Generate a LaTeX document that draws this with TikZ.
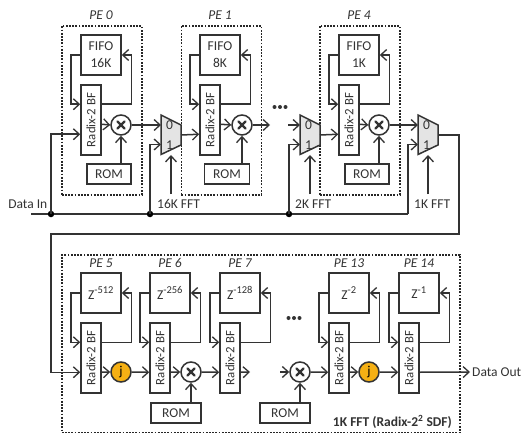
\documentclass[tikz,border=0pt]{standalone}
\usepackage{fontspec}
\setmainfont{Carlito}
\usetikzlibrary{arrows.meta,calc,shapes.misc}
\definecolor{ink}{HTML}{333333}
\definecolor{jfill}{HTML}{F5B014}
\definecolor{muxfill}{HTML}{E4E4E4}
\tikzset{
  wire/.style={draw=ink,line width=1.5pt,-{Straight Barb[length=6pt,width=11pt,line width=1.3pt]}},
  plain/.style={draw=ink,line width=1.5pt},
  boxn/.style={draw=ink,line width=1.5pt,fill=white,inner sep=0pt,align=center,text=ink,font=\fontsize{13.5}{17}\selectfont},
  mem/.style={boxn,minimum width=40pt,minimum height=40pt},
  bf/.style={boxn,minimum width=20pt,minimum height=70pt,font=\fontsize{12.8}{15}\selectfont},
  rom/.style={boxn,minimum height=20pt},
  pebox/.style={draw=black!85,line width=1.6pt,dash pattern=on 1.8pt off 1.4pt},
  pelabel/.style={font=\fontsize{13.5}{14}\itshape\selectfont,text=ink},
  lab/.style={font=\fontsize{13.5}{14}\selectfont,text=ink,inner sep=0pt},
  circ/.style={circle,draw=ink,line width=1.5pt,minimum size=20pt,inner sep=0pt,fill=white},
  dotn/.style={circle,fill=black,minimum size=6.5pt,inner sep=0pt},
  smalld/.style={circle,fill=ink,minimum size=4pt,inner sep=0pt},
  muxn/.style={draw=ink,line width=1.5pt,fill=muxfill},
}
% #1 id, #2 left x of memory box, #3 top y of memory box, #4 mem text, #5 label y,#6 label
\newcommand{\peblock}[6]{
  \node[mem] (m#1) at (#2+20,#3+20) {#4};
  \node[bf] (b#1) at (#2+10,#3+85) {\rotatebox{90}{Radix-2 BF}};
  \node[pelabel] (l#1) at (#2+20,#5) {#6};
  \coordinate (bu#1) at ($(b#1.north west)+(0,20)$);
  \coordinate (bv#1) at ($(b#1.north east)+(0,20)$);
  \coordinate (bi#1) at ($(b#1.north west)+(0,50)$);
  \coordinate (bm#1) at ($(b#1.north east)+(0,40)$);
  \coordinate (bl#1) at ($(b#1.north east)+(0,50)$);
  \draw[wire] (m#1.west) -- ++(-9.5,0) |- (bu#1);
  \draw[wire] (bv#1) -| ($(m#1.east)+(9.5,0)$) -- (m#1.east);
}
\newcommand{\mult}[3]{
  \node[circ] (#1) at (#2,#3) {};
  \draw[ink,line width=2.2pt,line cap=round] ($(#1)+(-3.5,-3.5)$) -- ($(#1)+(3.5,3.5)$);
  \draw[ink,line width=2.2pt,line cap=round] ($(#1)+(-3.5,3.5)$) -- ($(#1)+(3.5,-3.5)$);
}
% mux: id, left x
\newcommand{\mux}[2]{
  \coordinate (mx#1a) at (#2,115);
  \coordinate (mx#1b) at (#2+20,125);
  \coordinate (mx#1c) at (#2+20,145);
  \coordinate (mx#1d) at (#2,154.5);
  \draw[muxn] (mx#1a) -- (mx#1b) -- (mx#1c) -- (mx#1d) -- cycle;
  \node[lab] (mz#1) at (#2+8.5,125) {0};
  \node[lab] (mo#1) at (#2+8.5,145) {1};
  \coordinate (mi#1) at (#2,125);
  \coordinate (mj#1) at (#2,144.5);
  \coordinate (mout#1) at (#2+20,135);
  \coordinate (mc#1) at (#2+10,155);
  \coordinate (mcs#1) at (#2+10,194);
}
\begin{document}
\begin{tikzpicture}[x=1pt,y=-1pt]
\useasboundingbox (0,0) rectangle (522,433);
\fill[white] (0,0) rectangle (522,433);
% PE boxes
\node[pebox,minimum width=80pt,minimum height=169pt,inner sep=0pt,anchor=north west] (p0) at (61,25) {};
\node[pebox,minimum width=80pt,minimum height=169pt,inner sep=0pt,anchor=north west] (p1) at (180.5,25) {};
\node[pebox,minimum width=80pt,minimum height=169pt,inner sep=0pt,anchor=north west] (p4) at (319,25) {};
\node[pebox,minimum width=398pt,minimum height=178pt,inner sep=0pt,anchor=north west] (pall) at (61,254) {};
% ---------- top row ----------
\peblock{0}{81}{35}{FIFO\\16K}{15}{PE 0}
\peblock{1}{200}{35}{FIFO\\8K}{15}{PE 1}
\peblock{4}{339}{35}{FIFO\\1K}{15}{PE 4}
\mult{x0}{121}{125}
\mult{x1}{242}{125}
\mult{x4}{379}{125}
\node[rom,minimum width=44pt] (r0) at (109,174) {ROM};
\node[rom,minimum width=45pt] (r1) at (227,174) {ROM};
\node[rom,minimum width=44pt] (r4) at (367,174) {ROM};
\mux{1}{161}
\mux{2}{300}
\mux{3}{418}
% bus
\node[dotn] (d1) at (51,214) {};
\node[dotn] (d2) at (150,214) {};
\node[dotn] (d3) at (289,214) {};
\coordinate (busstart) at (31,214);
\coordinate (busend) at (408,214);
\draw[plain] (busstart) -- (d1) -- (d2) -- (d3) -- (busend);
\draw[wire] (d1.center) |- (bi0);
\draw[wire] (d2.center) |- (mj1);
\draw[wire] (d3.center) |- (mj2);
\draw[wire] (busend) |- (mj3);
\foreach \i/\x in {0/x0,1/x1,4/x4}{
  \draw[wire] (bm\i) -- (\x.west);
}
\draw[wire] (r0.north -| x0) -- (x0.south);
\draw[wire] (r1.north -| x1) -- (x1.south);
\draw[wire] (r4.north -| x4) -- (x4.south);
\draw[wire] (x0.east) -- (mi1);
\draw[wire] (mout1) -- (bi1);
\coordinate (t1) at (270,125);
\draw[wire] (x1.east) -- (t1);
\coordinate (t2) at (288,125);
\draw[wire] (t2) -- (mi2);
\draw[wire] (mout2) -- (bi4);
\draw[wire] (x4.east) -- (mi3);
\draw[wire] (mcs1) -- (mc1);
\draw[wire] (mcs2) -- (mc2);
\draw[wire] (mcs3) -- (mc3);
\node[smalld] (e1) at (274.5,107) {};
\node[smalld] (e2) at (280,107) {};
\node[smalld] (e3) at (285.5,107) {};
\node[lab,anchor=east] (di) at (47.5,204) {Data In};
\node[lab,anchor=west] (f16) at (157,204) {16K FFT};
\node[lab,anchor=west] (f2) at (295,204) {2K FFT};
\node[lab,anchor=west] (f1) at (414,204) {1K FFT};
% return wire
\coordinate (ra) at (459,135);
\coordinate (rb) at (459,234);
\coordinate (rc) at (51,234);
% ---------- bottom row ----------
\newcommand{\zz}[1]{Z\textsuperscript{\fontsize{10.5}{10}\selectfont #1}}
\peblock{5}{81}{273}{\zz{-512}}{263}{PE 5}
\peblock{6}{150}{273}{\zz{-256}}{263}{PE 6}
\peblock{7}{220}{273}{\zz{-128}}{263}{PE 7}
\peblock{13}{329}{273}{\zz{-2}}{263}{PE 13}
\peblock{14}{399}{273}{\zz{-1}}{263}{PE 14}
\draw[wire] (mout3) -- (ra) -- (rb) -- (rc) |- (bi5);
\node[circ,fill=jfill] (j1) at (121,372) {\fontsize{13.5}{14}\selectfont j};
\node[circ,fill=jfill] (j2) at (369,372) {\fontsize{13.5}{14}\selectfont j};
\mult{x6}{191}{372}
\mult{x12}{300}{372}
\node[rom,minimum width=50pt] (r6) at (176,413) {ROM};
\node[rom,minimum width=50pt] (r12) at (285,413) {ROM};
\draw[wire] (bl5) -- (j1.west);
\draw[wire] (j1.east) -- (bi6);
\draw[wire] (bl6) -- (x6.west);
\draw[wire] (x6.east) -- (bi7);
\coordinate (t7) at (250,372);
\draw[wire] (bl7) -- (t7);
\coordinate (t12) at (280,372);
\draw[wire] (t12) -- (x12.west);
\draw[wire] (x12.east) -- (bi13);
\draw[wire] (bl13) -- (j2.west);
\draw[wire] (j2.east) -- (bi14);
\draw[wire] (r6.north -| x6) -- (x6.south);
\draw[wire] (r12.north -| x12) -- (x12.south);
\node[lab,anchor=west] (dout) at (472,372) {Data Out};
\coordinate (outend) at (470,372);
\draw[wire] (bl14) -- (outend);
\node[smalld] (g1) at (288.5,318) {};
\node[smalld] (g2) at (294,318) {};
\node[smalld] (g3) at (299.5,318) {};
\node[lab,anchor=east,font=\fontsize{13.5}{14}\bfseries\selectfont] (title) at (452,422) {1K FFT (Radix-2\textsuperscript{2} SDF)};
\end{tikzpicture}
\end{document}
